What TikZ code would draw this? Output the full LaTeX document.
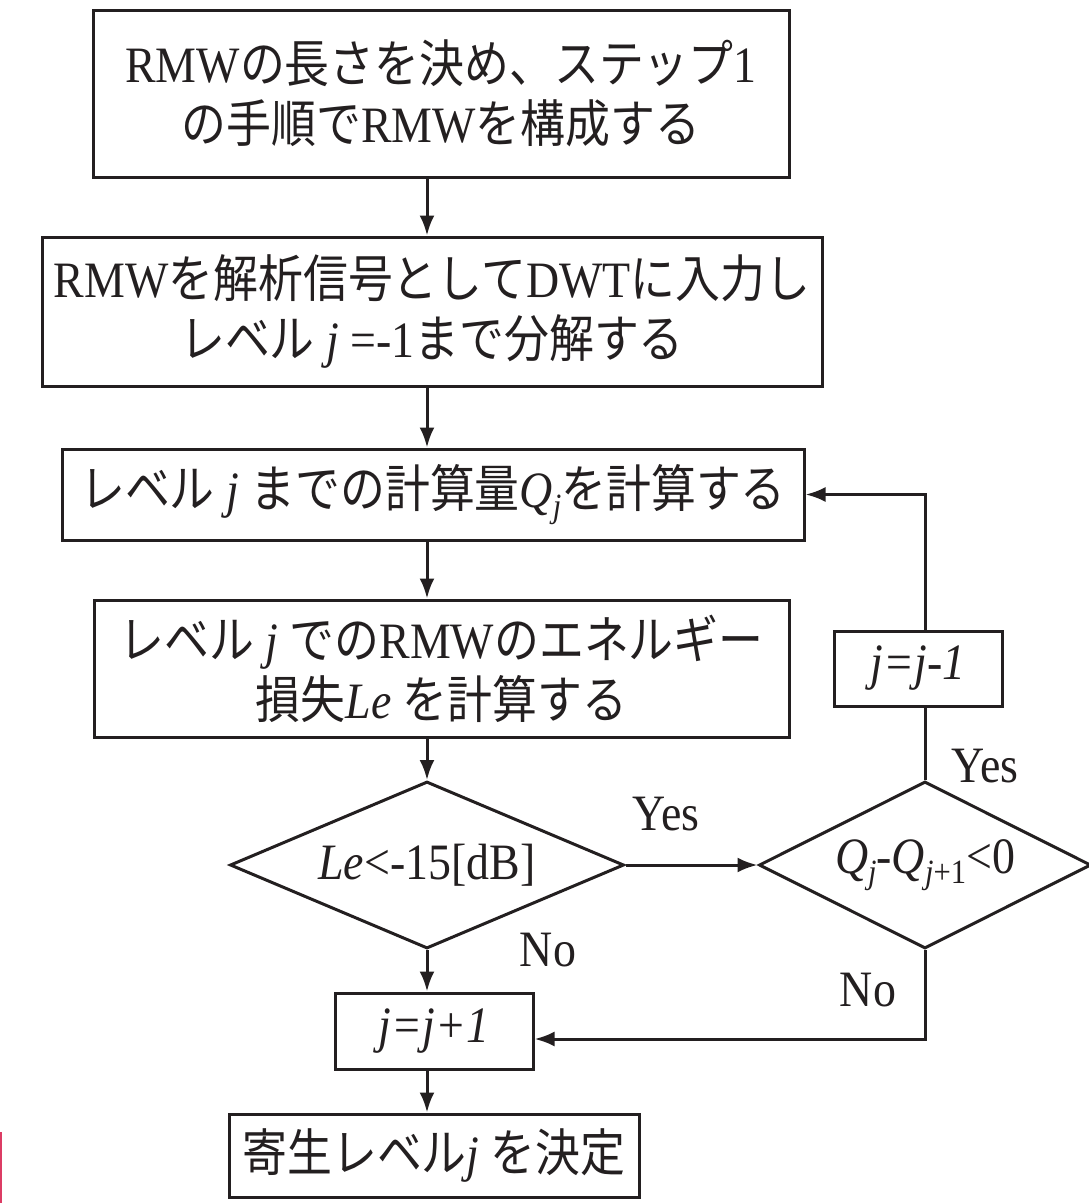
\documentclass[tikz,border=0pt]{standalone}
\usepackage{fontspec}
\setmainfont{Liberation Serif}[FakeStretch=0.9]
\newfontfamily\jp{Noto Sans CJK JP}[FakeStretch=0.88]
\usetikzlibrary{shapes.geometric,arrows.meta}
\definecolor{ink}{RGB}{35,31,32}
\definecolor{pinkmark}{RGB}{220,60,100}
\newcommand{\J}[1]{{\jp #1}}
\newcommand{\I}[1]{{\itshape #1}}
\newcommand{\Sb}[1]{\raisebox{-10pt}{\fontsize{34}{34}\selectfont\itshape #1}}
\begin{document}
\begin{tikzpicture}[x=1pt,y=-1pt,
  every node/.style={text=ink},
  stepbox/.style={draw=ink, line width=3pt, inner sep=0pt, align=center,
    font=\fontsize{51}{60}\selectfont},
  decision/.style={draw=ink, line width=3pt, inner sep=0pt, shape=diamond,
    font=\fontsize{51}{60}\selectfont},
  lbl/.style={font=\fontsize{51}{60}\selectfont, inner sep=0pt},
  arr/.style={draw=ink, line width=3pt, -{Latex[length=20pt,width=15pt]}},
  ln/.style={draw=ink, line width=3pt}]
\useasboundingbox (0,0) rectangle (1089,1203);
% pink mark at left edge
\draw[pinkmark, line width=2.5pt] (1.2,1132) -- (1.2,1203);

\node[stepbox, minimum width=696pt, minimum height=167pt] (b1) at (441,93.5)
  {RMW\J{の長さを決め、ステップ}1\\\J{の手順で}RMW\J{を構成する}};
\node[stepbox, minimum width=780pt, minimum height=149pt] (b2) at (432,311.5)
  {RMW\J{を解析信号として}DWT\J{に入力し}\\\J{レベル} \I{j} =-1\J{まで分解する}};
\node[stepbox, minimum width=742pt, minimum height=91pt] (b3) at (433,494.5)
  {\J{レベル} \I{j} \J{までの計算量}\I{Q}\Sb{j}\J{を計算する}};
\node[stepbox, minimum width=695pt, minimum height=137pt] (b4) at (441.5,668.5)
  {\J{レベル} \I{j} \J{での}RMW\J{のエネルギー}\\\J{損失}\I{Le} \J{を計算する}};
\node[decision, minimum width=394pt, minimum height=167pt, aspect=2.35] (d1) at (427,865)
  {\I{Le}<-15[dB]};
\node[decision, minimum width=332pt, minimum height=167pt, aspect=2] (d2) at (925,865)
  {\I{Q}\Sb{j}-\I{Q}\Sb{j\upshape+1}<0};
\node[stepbox, minimum width=168pt, minimum height=75pt] (jm) at (918,668.5)
  {\I{j=j-1}};
\node[stepbox, minimum width=198pt, minimum height=76pt] (jp) at (434,1031)
  {\I{j=j+1}};
\node[stepbox, minimum width=410pt, minimum height=83pt] (fin) at (434,1155.5)
  {\J{寄生レベル}\I{j} \J{を決定}};

\node[lbl] (y1) at (666,814) {Yes};
\node[lbl] (y2) at (985,766) {Yes};
\node[lbl] (n1) at (548,950) {No};
\node[lbl] (n2) at (868,990) {No};

\coordinate (x0) at (427,0);
\draw[arr] (b1.south -| x0) -- (b2.north -| x0);
\draw[arr] (b2.south -| x0) -- (b3.north -| x0);
\draw[arr] (b3.south -| x0) -- (b4.north -| x0);
\draw[arr] (b4.south -| x0) -- (d1.north);
\draw[arr] (d1.east) -- (d2.west);
\draw[arr] (d1.south) -- (jp.north -| x0);
\draw[arr] (jp.south -| x0) -- (fin.north -| x0);
\coordinate (rj) at (925,1039);
\draw[arr] (d2.south) -- (rj) -- (rj -| jp.east);
\draw[ln] (d2.north) -- (d2.north |- jm.south);
\draw[arr] (d2.north |- jm.north) -- (d2.north |- b3.east) -- (b3.east);
\end{tikzpicture}
\end{document}
